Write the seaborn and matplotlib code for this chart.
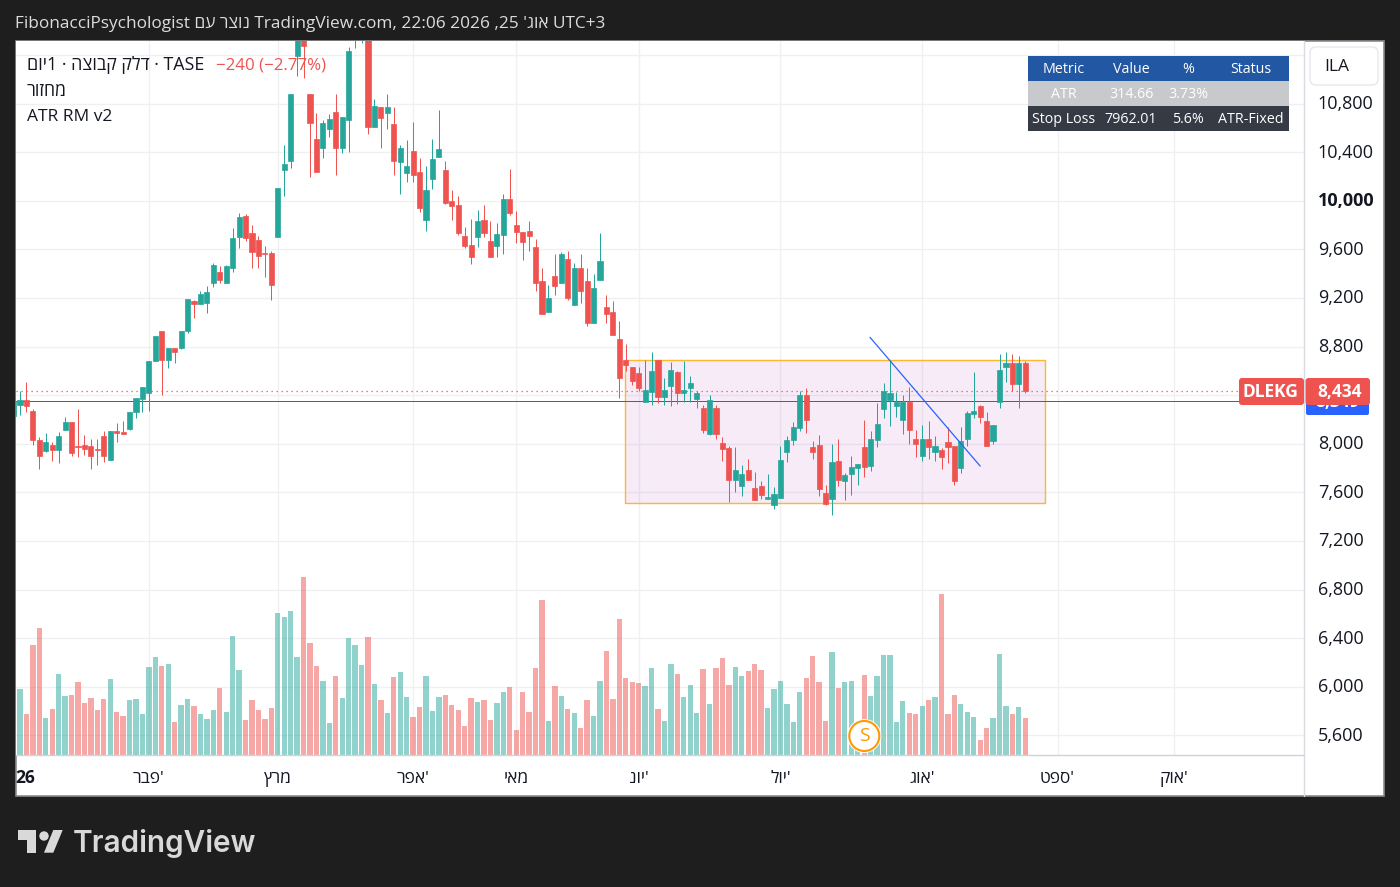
import numpy as np
import pandas as pd
import matplotlib
matplotlib.use("Agg")
import matplotlib.pyplot as plt
from matplotlib.patches import Rectangle, FancyBboxPatch, Circle, Polygon
from matplotlib.transforms import ScaledTranslation
import seaborn as sns

opens = [8231,8322,8363,8272,8033,7942,7992,7951,8116,8182,7984,7992,7984,7959,8066,7868,8107,8099,8124,8264,8371,8421,8677,8924,8693,8792,8784,8924,9172,9147,9155,
         9320,9411,9320,9444,9700,9873,9733,9675,9568,9568,9700,10252,10327,11193,11450,10879,10508,10434,10591,10731,10434,10665,11400,11400,11450,10607,10772,10723,10632,10318,
         10228,10409,10236,9840,10178,10360,10252,9997,9964,9708,9634,9700,9840,9667,9625,9716,10013,9799,9741,9749,9617,9337,9081,9378,9320,9518,9139,9444,9337,8990,
         9345,9122,9081,8866,8693,8635,8585,8346,8429,8693,8387,8478,8594,8420,8462,8371,8297,8082,8297,8008,7967,7703,7653,7785,7637,7653,7546,7496,7554,7934,
         8033,8132,8404,7975,7991,7595,7546,7859,7694,7752,7802,7975,7818,8033,8288,8363,8313,8198,8346,8041,7901,8041,7934,7950,8016,7983,7802,8041,8247,8313,
         8189,8024,8346,8635,8668,8495,8668]
highs = [8380,8432,8506,8286,8052,8091,8017,8094,8223,8182,8289,8074,8041,8041,8107,8107,8173,8190,8264,8380,8470,8685,8883,8932,8792,8792,8932,9188,9180,9254,9295,
         9485,9460,9469,9774,9898,9889,9799,9708,9625,9584,10104,10459,10879,11500,11550,10879,10723,10665,10714,10879,10690,11267,11600,11500,11500,10838,10772,10879,10772,10459,
         10500,10648,10351,10285,10508,10747,10327,10087,10038,9782,9848,9922,9964,9832,9815,10054,10261,9914,9741,9832,9683,9444,9304,9559,9576,9584,9485,9559,9444,9394,
         9733,9221,9172,9007,8825,8635,8635,8693,8759,8693,8544,8676,8602,8684,8561,8437,8321,8404,8321,8057,7983,7975,7826,7876,7769,7694,7752,7645,7983,8066,
         8181,8437,8462,8024,8074,7661,8000,8041,7760,7901,7835,8198,8107,8338,8503,8684,8429,8404,8470,8115,8156,8189,8066,7967,8140,7983,8140,8272,8594,8321,
         8264,8156,8742,8759,8742,8726,8684]
lows = [8200,8240,8264,7992,7794,7934,7860,7843,8116,7901,7893,7909,7794,7827,7852,7868,8017,8083,8116,8215,8264,8272,8677,8404,8627,8668,8776,8908,9031,9147,9073,
        9287,9320,9320,9411,9609,9667,9444,9444,9370,9180,9700,10038,10269,11028,11011,10195,10236,10351,10525,10211,10393,10401,11259,11300,10549,10607,10434,10591,10211,10054,
        10153,10153,9906,9749,10096,10360,9972,9840,9716,9609,9477,9617,9700,9535,9535,9559,9881,9650,9510,9584,9254,9064,9081,9221,9320,9180,9139,9155,8965,8990,
        9345,8990,8891,8380,8602,8486,8437,8346,8321,8338,8321,8313,8330,8346,8346,8297,8090,8074,8041,7859,7521,7604,7571,7703,7538,7546,7546,7463,7554,7851,
        7991,8107,8090,7876,7571,7496,7414,7653,7538,7579,7661,7727,7777,7975,8214,8148,8222,8082,8000,7892,7859,7876,7859,7793,7843,7661,7760,7983,8214,8173,
        7983,8000,8297,8511,8437,8297,8420]
closes = [8350,8363,8314,8033,7901,8017,7951,8066,8182,7926,7975,7959,7901,7951,7901,8107,8091,8083,8264,8380,8470,8685,8883,8693,8792,8751,8932,9188,9147,9229,9246,
          9469,9345,9460,9691,9865,9691,9576,9543,9562,9304,10104,10302,10879,11450,11270,10640,10236,10640,10673,10434,10690,11234,11550,11450,10607,10780,10681,10772,10327,10434,
          10285,10211,9939,10087,10343,10426,9980,9955,9733,9625,9535,9832,9733,9535,9724,10013,9898,9741,9658,9708,9320,9064,9196,9295,9559,9196,9444,9254,8990,9279,
          9502,9064,8891,8545,8651,8519,8462,8445,8602,8387,8445,8610,8420,8445,8503,8420,8115,8363,8082,7958,7703,7785,7752,7703,7538,7579,7562,7587,7868,8033,
          8140,8404,8198,7934,7628,7505,7851,7703,7744,7810,7835,7810,8041,8165,8437,8420,8346,8346,8115,8000,8041,7975,7983,7892,7975,7694,8024,8255,8272,8222,
          7983,8156,8610,8668,8495,8668,8434]
volumes = [75,198,123,330,381,111,138,243,177,180,219,156,171,135,168,228,129,117,165,168,123,264,294,267,273,99,150,168,147,123,108,
           135,201,129,357,255,105,165,135,108,141,426,414,432,294,534,336,267,222,96,237,171,351,330,270,354,213,165,126,234,249,
           174,114,144,237,132,174,180,150,135,87,171,159,165,105,156,189,204,75,189,129,261,465,102,207,177,138,126,81,165,117,
           222,312,168,408,231,219,216,207,261,138,102,273,243,174,210,126,258,153,261,291,210,264,237,252,273,255,141,198,222,153,
           99,189,231,297,219,102,309,201,219,222,80,240,177,237,300,300,99,162,126,123,147,165,174,483,123,180,153,129,114,45,
           81,111,303,147,123,144,111]

price_ticks = [5600,6000,6400,6800,7200,7600,8000,8400,8800,9200,9600,10000,10400,10800,11200]
hidden_price_labels = [8400, 11200]
month_ticks = [20,40,61,77,96,118,140,161,179]
month_names = ["פבר", "מרץ", "אפר", "מאי", "יונ", "יול", "אוג", "ספט", "אוק"]
month_abbrev = [True, False, True, False, True, True, True, True, True]
table_rows = [["Metric","Value","%","Status"],["ATR","314.66","3.73%",""],["Stop Loss","7962.01","5.6%","ATR-Fixed"]]
last_price = 8434
level_price = 8349
box_index = (93.9, 159.0)
box_price = (7509, 8687)
trend_index = (131.9, 149.0)
trend_price = (8876, 7816)

UP, DOWN = "#26a69a", "#ef5350"
DARK = "#1e1e1e"
INK = "#131722"
W, H = 1400, 887
sns.set_theme(style="white")
FONT = ["Open Sans", "Liberation Sans", "DejaVu Sans"]
plt.rcParams["font.family"] = FONT

idx = np.arange(-1, len(opens) - 1)
df = pd.DataFrame(dict(i=idx, o=opens, h=highs, l=lows, c=closes, v=volumes))
df["dir"] = np.where(df.c >= df.o, "up", "down")
df["top"] = df[["o", "c"]].max(axis=1)
df["bot"] = df[["o", "c"]].min(axis=1)
df["body"] = df.top - df.bot

fig = plt.figure(figsize=((W + 0.01) / 100, (H + 0.01) / 100), dpi=100, facecolor=DARK)
def px_rect(x0, y0, x1, y1):
    return [x0 / W, 1 - y1 / H, (x1 - x0) / W, (y1 - y0) / H]

bg = fig.add_axes([0, 0, 1, 1], zorder=0)
bg.set_xlim(0, W); bg.set_ylim(H, 0); bg.axis("off")
bg.add_patch(Rectangle((16, 41), 1368, 755, fc="white", ec="#8c8c8c", lw=1.2))

ax = fig.add_axes(px_rect(16, 41, 1304, 755), zorder=1, facecolor="white")
vx = fig.add_axes(px_rect(16, 41, 1304, 755), zorder=1.5, facecolor="none")

# volume
sns.barplot(data=df, x="i", y="v", hue="dir", palette={"up": UP, "down": DOWN}, native_scale=True,
            dodge=False, errorbar=None, width=0.82, saturation=1, alpha=0.5, legend=False, linewidth=0, ax=vx)
vx.set_xlim(-0.62, 199.25); vx.set_ylim(0, 714 * 3); vx.axis("off")

# box and candles
ax.add_patch(Rectangle((box_index[0], box_price[0]), box_index[1] - box_index[0], box_price[1] - box_price[0],
                       fc="#9c27b0", alpha=0.09, ec="none", zorder=1.5))
ax.add_patch(Rectangle((box_index[0], box_price[0]), box_index[1] - box_index[0], box_price[1] - box_price[0],
                       fc="none", ec="#fbb92b", lw=1.0, zorder=1.6))
for d, col in (("up", UP), ("down", DOWN)):
    s = df[df.dir == d].sort_values("i")
    wicks = ax.vlines(s.i, s.l, s.h, color=col, lw=0.72, zorder=3)
    wicks.set_snap(True)
    sns.barplot(x=s.i.values, y=s.body.values, bottom=s.bot.values, native_scale=True, color=col, saturation=1,
                errorbar=None, width=0.8, edgecolor=col, linewidth=0.5, zorder=3, ax=ax)
ax.axhline(level_price, color="#2f5fe0", lw=0.72, zorder=2)
ax.axhline(last_price, color=DOWN, lw=0.9, ls=(0, (1, 3)), zorder=2)
ax.plot(trend_index, trend_price, color="#2962ff", lw=0.9, zorder=4)

ax.set_xlim(-0.62, 199.25); ax.set_ylim(5438, 11315)
ax.set_xlabel(""); ax.set_ylabel("")
ax.yaxis.tick_right()
ax.set_yticks(price_ticks, ["" if p in hidden_price_labels else f"{p:,}" for p in price_ticks])
ax.set_xticks(month_ticks, [(n[::-1] + ("'" if a else "")) for n, a in zip(month_names, month_abbrev)])
ax.tick_params(axis="y", length=0, pad=10, labelsize=13, labelcolor=INK)
ax.tick_params(axis="x", length=0, pad=11.7, labelsize=12.5, labelcolor=INK)
lift = ScaledTranslation(0, 1.5 / 100, fig.dpi_scale_trans)
for lab, p in zip(ax.get_yticklabels(), price_ticks):
    lab.set_transform(lab.get_transform() + lift)
    if p == 10000:
        lab.set_fontweight("bold")
ax.grid(True, color="#f0f0f2", lw=1)
ax.set_axisbelow(True)
for sp in ax.spines.values():
    sp.set_visible(False)

# overlay
ov = fig.add_axes([0, 0, 1, 1], zorder=5, facecolor="none")
ov.set_xlim(0, W); ov.set_ylim(H, 0); ov.axis("off")
ov.plot([1304, 1304], [41, 796], color="#d9dbe0", lw=1)
ov.plot([16, 1304], [755.5, 755.5], color="#d0d2d8", lw=1)

# header
ov.text(15, 24, "FibonacciPsychologist " + "נוצר עם"[::-1] + " TradingView.com, 22:06 2026 ,25 '" + "אוג"[::-1] + " UTC+3",
        color="#dcdcdc", fontsize=12.45, va="center", ha="left")
ov.text(27, 65, "יום"[::-1] + "1 · " + "דלק קבוצה"[::-1] + " · TASE", color=INK, fontsize=12.9, va="center")
ov.text(216, 65, "−240 (−2.77%)", color=DOWN, fontsize=12.2, va="center")
ov.text(27, 91, "מחזור"[::-1], color=INK, fontsize=12.7, va="center")
ov.text(27, 117, "ATR RM v2", color=INK, fontsize=12.5, va="center")
ov.text(15, 778, "26", color=INK, fontsize=12.5, va="center", fontweight="bold")

# table
row_y = [(56, 81, "#2157a3"), (81, 106, "#c8c9cd"), (106, 131, "#363a45")]
col_x = [1064, 1131, 1188, 1251]
for (y0, y1, c), row in zip(row_y, table_rows):
    ov.add_patch(Rectangle((1028, y0), 261, y1 - y0, fc=c, ec="none"))
    for x, t in zip(col_x, row):
        ov.text(x, (y0 + y1) / 2 + 0.5, t, color="white", fontsize=10.3, ha="center", va="center")

# ILA
ov.add_patch(FancyBboxPatch((1313, 50), 62, 32, boxstyle="round,pad=3,rounding_size=6", fc="white", ec="#e6e8ee", lw=1))
ov.text(1337, 67, "ILA", color=INK, fontsize=12.5, ha="center", va="center")

# price labels
ov.add_patch(FancyBboxPatch((1306, 392), 63, 23, boxstyle="round,pad=0,rounding_size=2", fc="#2962ff", ec="none", zorder=5))
ov.text(1338, 402, f"{level_price:,}", color="white", fontsize=12.5, ha="center", va="center", fontweight="bold", zorder=6)
ov.add_patch(FancyBboxPatch((1239, 378), 65, 27, boxstyle="round,pad=0,rounding_size=3", fc=DOWN, ec="none", zorder=7))
ov.add_patch(FancyBboxPatch((1305.5, 378), 64.5, 27, boxstyle="round,pad=0,rounding_size=3", fc=DOWN, ec="none", zorder=7))
ov.text(1270, 392, "DLEKG", color="white", fontsize=12.5, ha="center", va="center", fontweight="bold", zorder=8)
ov.text(1340, 392, f"{last_price:,}", color="white", fontsize=12.5, ha="center", va="center", fontweight="bold", zorder=8)

# S badge
ov.add_patch(Circle((864.3, 736), 17, fc="white", ec="none"))
ov.add_patch(Circle((864.3, 736), 15, fc="white", ec="#ff9800", lw=1.5))
ov.text(864.3, 736, "S", color="#ff9800", fontsize=14, ha="center", va="center")

# logo
LOGO = "#d9d9d9"
ov.add_patch(Polygon([(18, 830), (36, 830), (36, 853), (27, 853), (27, 840), (18, 840)], fc=LOGO, ec="none"))
ov.add_patch(Circle((44, 836), 4.7, fc=LOGO, ec="none"))
ov.add_patch(Polygon([(53.3, 830), (62.7, 830), (53.3, 852.7), (44, 852.7)], fc=LOGO, ec="none"))
ov.text(73, 843, "TradingView", color=LOGO, fontsize=21.4, va="center", family="Inter", fontweight="semibold")

fig.savefig("out.png", dpi=100, facecolor=DARK)
